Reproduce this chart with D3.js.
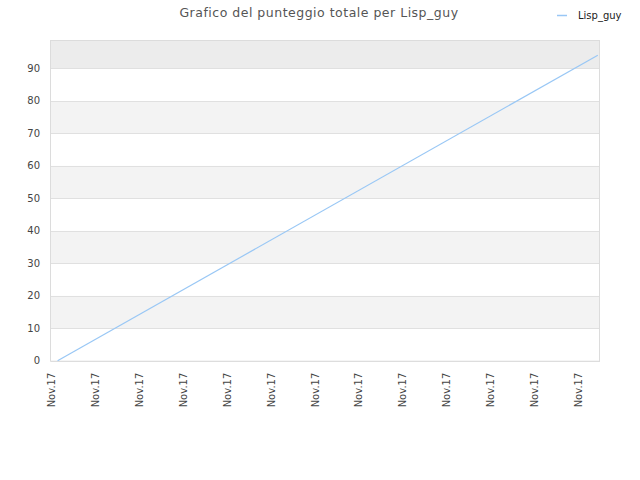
<!DOCTYPE html>
<html>
<head>
<meta charset="utf-8">
<script src="https://cdn.jsdelivr.net/npm/d3@7"></script>
<style>
  body { margin: 0; background: #fff; }
  svg { display: block; font-family: "DejaVu Sans", Verdana, sans-serif; }
</style>
</head>
<body>
<svg id="chart" width="640" height="480"></svg>
<script>
const title = 'Grafico del punteggio totale per Lisp_guy';
const seriesName = 'Lisp_guy';
// x positions are in tick units (tick 0 = first "Nov.17" label)
const tickLabels = ['Nov.17', 'Nov.17', 'Nov.17', 'Nov.17', 'Nov.17', 'Nov.17', 'Nov.17',
  'Nov.17', 'Nov.17', 'Nov.17', 'Nov.17', 'Nov.17', 'Nov.17'];
const pointX = [0.15, 12.45];
const pointY = [0, 94];
const yTicks = [0, 10, 20, 30, 40, 50, 60, 70, 80, 90];

const svg = d3.select('#chart');
const margin = { top: 40, right: 40, bottom: 120, left: 51 };
const width = 640, height = 480;

const x = d3.scaleLinear()
  .domain([0, 12.5])
  .range([margin.left, width - margin.right]);

const yMax = d3.max(pointY) * 1.05;
const y = d3.scaleLinear()
  .domain([0, yMax])
  .range([height - margin.bottom + 0.7, margin.top]);

// alternating bands
const bands = yTicks.map((t, i) => ({ from: t, to: i + 1 < yTicks.length ? yTicks[i + 1] : yMax }));
svg.append('g')
  .selectAll('rect')
  .data(bands)
  .enter().append('rect')
  .attr('x', x(0))
  .attr('width', x(12.5) - x(0))
  .attr('y', d => y(d.to))
  .attr('height', d => y(d.from) - y(d.to))
  .attr('fill', (d, i) => i === bands.length - 1 ? '#ececec' : (i % 2 ? '#f3f3f3' : '#fff'));

// grid lines
svg.append('g')
  .selectAll('line')
  .data(yTicks)
  .enter().append('line')
  .attr('x1', x(0))
  .attr('x2', x(12.5))
  .attr('y1', d => Math.round(y(d)) + 0.5)
  .attr('y2', d => Math.round(y(d)) + 0.5)
  .attr('stroke', '#e0e0e0');

// plot frame
svg.append('rect')
  .attr('x', Math.round(x(0)) - 0.5)
  .attr('y', margin.top + 0.5)
  .attr('width', x(12.5) - x(0))
  .attr('height', y(0) - margin.top)
  .attr('fill', 'none')
  .attr('stroke', '#dcdcdc');

// y axis
const yAxis = svg.append('g')
  .attr('transform', `translate(${x(0)},0)`)
  .call(d3.axisLeft(y).tickValues(yTicks).tickSize(0).tickPadding(11));
yAxis.select('.domain').remove();
yAxis.selectAll('text').attr('fill', '#444').style('font-size', '10px')
  .style('font-family', '"DejaVu Sans", Verdana, sans-serif');

// x axis
const xAxis = svg.append('g')
  .attr('transform', `translate(0,${y(0)})`)
  .call(d3.axisBottom(x)
    .tickValues(d3.range(tickLabels.length))
    .tickFormat(i => tickLabels[i])
    .tickSize(0));
xAxis.select('.domain').remove();
xAxis.selectAll('text')
  .attr('fill', '#444')
  .style('font-size', '10px')
  .style('font-family', '"DejaVu Sans", Verdana, sans-serif')
  .attr('text-anchor', 'end')
  .attr('transform', 'rotate(-90)')
  .attr('x', -12)
  .attr('y', 0)
  .attr('dy', '0.35em');

// line
const data = pointX.map((d, i) => ({ x: d, y: pointY[i] }));
svg.append('path')
  .datum(data)
  .attr('fill', 'none')
  .attr('stroke', '#99c7f5')
  .attr('stroke-width', 1.2)
  .attr('d', d3.line().x(d => x(d.x)).y(d => y(d.y)));

// title
svg.append('text')
  .attr('x', 319)
  .attr('y', 17)
  .attr('text-anchor', 'middle')
  .attr('fill', '#555')
  .style('font-size', '12.5px')
  .style('letter-spacing', '0.5px')
  .text(title);

// legend
svg.append('line')
  .attr('x1', 557).attr('x2', 567)
  .attr('y1', 15.5).attr('y2', 15.5)
  .attr('stroke', '#99c7f5')
  .attr('stroke-width', 1.5);
svg.append('text')
  .attr('x', 578)
  .attr('y', 19)
  .attr('fill', '#222')
  .style('font-size', '10px')
  .text(seriesName);
</script>
</body>
</html>
